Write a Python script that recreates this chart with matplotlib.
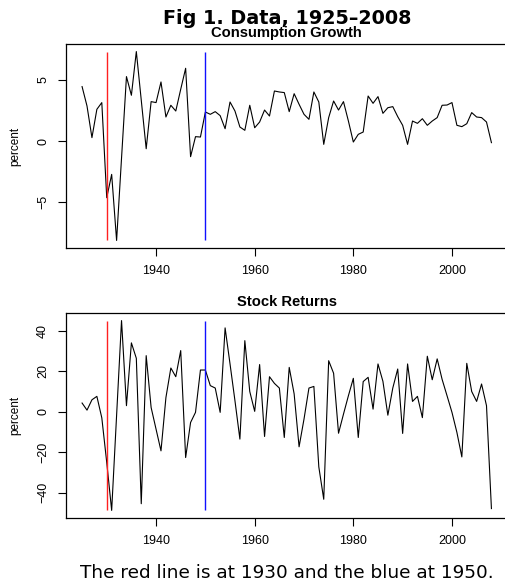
import numpy as np
import matplotlib
matplotlib.use("Agg")
import matplotlib.pyplot as plt

years = np.arange(1925, 2009)

consumption = [4.46, 2.87, 0.28, 2.6, 3.15, -4.64, -2.73, -8.14, -1.4, 5.28,
               3.75, 7.33, 3.35, -0.63, 3.23, 3.15, 4.84, 1.97, 2.93, 2.46,
               4.24, 5.96, -1.28, 0.36, 0.33, 2.38, 2.19, 2.41, 2.08, 1.01,
               3.2, 2.46, 1.15, 0.88, 2.93, 1.09, 1.56, 2.54, 2.05, 4.1,
               4.02, 3.97, 2.41, 3.88, 3.01, 2.19, 1.78, 4.02, 3.2, -0.27,
               1.92, 3.28, 2.54, 3.23, 1.64, -0.08, 0.55, 0.74, 3.69, 3.09,
               3.64, 2.27, 2.73, 2.82, 2.0, 1.29, -0.27, 1.64, 1.45, 1.83,
               1.29, 1.64, 1.92, 2.93, 2.95, 3.15, 1.29, 1.18, 1.42, 2.33,
               1.97, 1.92, 1.56, -0.13]

stock_returns = [4.3, 0.8, 5.9, 7.6, -3.0, -25.0, -48.7, -1.8, 45.0, 3.0,
                 34.0, 26.4, -45.4, 27.7, 2.1, -8.6, -19.3, 7.0, 21.6, 17.3,
                 30.2, -22.6, -5.3, -0.3, 20.6, 20.6, 12.9, 11.7, -0.3, 41.4,
                 23.6, 5.4, -13.5, 35.1, 10.0, 0.2, 23.3, -12.2, 17.3, 14.0,
                 11.7, -12.7, 21.9, 8.8, -17.3, -3.6, 11.7, 12.5, -27.2, -43.2,
                 25.2, 19.0, -10.6, -1.2, 7.9, 16.5, -12.7, 14.9, 17.0, 1.3,
                 23.6, 15.0, -1.7, 11.7, 21.1, -10.7, 23.6, 5.1, 7.6, -2.9,
                 27.4, 15.8, 26.1, 16.0, 7.9, -0.3, -10.2, -22.3, 23.9, 10.0,
                 5.1, 13.7, 3.0, -47.8]

xticks = [1940, 1960, 1980, 2000]
yticks_top = [-5, 0, 5]
yticks_bot = [-40, -20, 0, 20, 40]
red_year = 1930
blue_year = 1950

main_title = "Fig 1. Data, 1925\u20132008"
titles = ["Consumption Growth", "Stock Returns"]
caption = "The red line is at 1930 and the blue at 1950."

W, H = 506, 585
fig = plt.figure(figsize=(W / 100, H / 100), dpi=100)

left_px, right_px = 65.7, 507.8
panels = [(44, 248), (313, 518)]
series = [consumption, stock_returns]
yticks_list = [yticks_top, yticks_bot]
tfont = "Liberation Sans"

def rlim(v):
    lo, hi = min(v), max(v)
    d = (hi - lo) * 0.04
    return lo - d, hi + d

for i, (top, bot) in enumerate(panels):
    ax = fig.add_axes([left_px / W, 1 - bot / H, (right_px - left_px) / W, (bot - top) / H])
    data = np.array(series[i])
    ax.plot(years, data, color="black", lw=0.8)
    ax.vlines([red_year], data.min(), data.max(), colors="#ff2020", lw=1.0)
    ax.vlines([blue_year], data.min(), data.max(), colors="#1010ff", lw=1.0)
    ax.set_xlim(rlim(years))
    ax.set_ylim(rlim(data))
    ax.set_xticks(xticks)
    ax.set_xticklabels([str(t) for t in xticks], fontfamily=tfont, fontsize=9)
    ax.set_yticks(yticks_list[i])
    ax.set_yticklabels([str(t).replace("-", "\u2212") for t in yticks_list[i]],
                       fontfamily=tfont, fontsize=9, rotation=90, va="center")
    ax.tick_params(direction="out", length=6, width=0.8, pad=6)
    for s in ax.spines.values():
        s.set_linewidth(0.9)
    cy = (top + bot) / 2
    fig.text(15 / W, 1 - cy / H, "percent", rotation=90, ha="center", va="center",
             fontfamily=tfont, fontsize=8.5)
    fig.text((left_px + right_px) / 2 / W, 1 - (top - 11) / H, titles[i],
             ha="center", va="center", fontfamily=tfont, fontweight="bold", fontsize=10.6)

fig.text((left_px + right_px) / 2 / W, 1 - 18 / H, main_title, ha="center", va="center",
         fontfamily="DejaVu Sans", fontweight="bold", fontsize=13.8)
fig.text((left_px + right_px) / 2 / W, 1 - 573 / H, caption, ha="center", va="center",
         fontfamily="DejaVu Sans", fontsize=13.3)

fig.savefig("out.png", dpi=100)
